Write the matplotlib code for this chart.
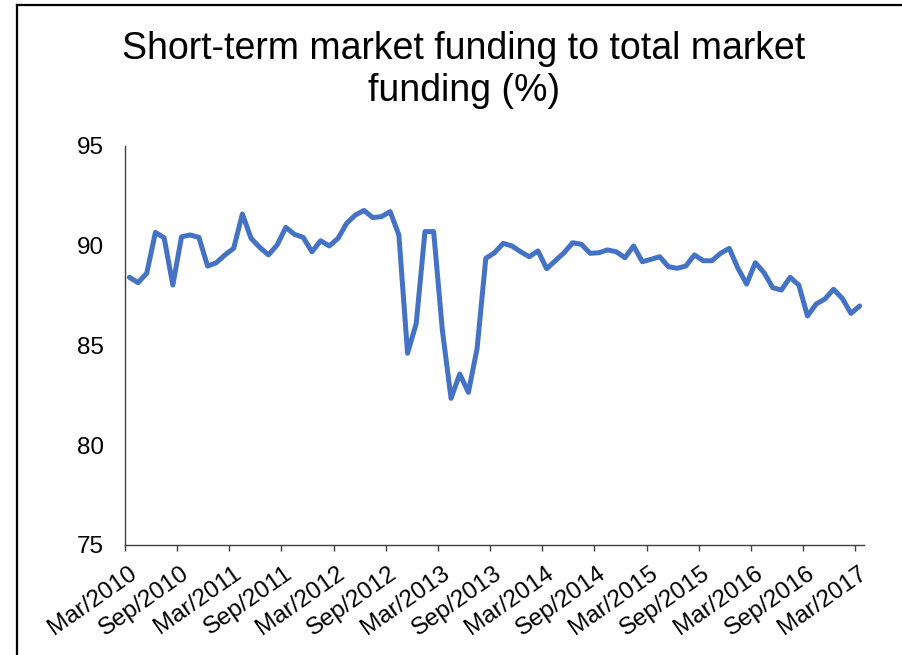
import matplotlib
matplotlib.use("Agg")
import matplotlib.pyplot as plt
import matplotlib.transforms as mtransforms
import numpy as np

# monthly share of short-term funding, Mar/2010 .. Mar/2017
values = [
    88.42, 88.15, 88.62, 90.67, 90.40, 88.03, 90.45, 90.54, 90.42, 88.98,
    89.15, 89.54, 89.87, 91.59, 90.37, 89.92, 89.54, 90.04, 90.92, 90.57,
    90.42, 89.70, 90.25, 89.99, 90.37, 91.13, 91.54, 91.77, 91.41, 91.46,
    91.71, 90.54, 84.61, 86.11, 90.71, 90.71, 85.78, 82.35, 83.57, 82.65,
    84.86, 89.37, 89.65, 90.12, 89.99, 89.70, 89.45, 89.74, 88.85, 89.25,
    89.65, 90.15, 90.07, 89.62, 89.65, 89.79, 89.70, 89.40, 89.99, 89.20,
    89.32, 89.45, 88.95, 88.87, 88.98, 89.54, 89.25, 89.25, 89.62, 89.87,
    88.87, 88.08, 89.15, 88.65, 87.90, 87.78, 88.42, 88.03, 86.48, 87.08,
    87.33, 87.82, 87.36, 86.61, 86.98,
]
tick_labels = ["Mar/2010", "Sep/2010", "Mar/2011", "Sep/2011", "Mar/2012",
               "Sep/2012", "Mar/2013", "Sep/2013", "Mar/2014", "Sep/2014",
               "Mar/2015", "Sep/2015", "Mar/2016", "Sep/2016", "Mar/2017"]
y_ticks = [75, 80, 85, 90, 95]

plt.rcParams['font.family'] = ['Liberation Sans', 'DejaVu Sans']

fig = plt.figure(figsize=(9.03, 6.55), dpi=100)

# outer chart border (only top and left edges are visible in the crop)
fig.add_artist(plt.Line2D([17/903, 1], [1 - 5/655, 1 - 5/655], color="black", lw=1.6))
fig.add_artist(plt.Line2D([17/903, 17/903], [0, 1 - 5/655], color="black", lw=1.6))

ax = fig.add_axes([125/903, 1 - 545/655, (864 - 125)/903, (545 - 146)/655])

# points sit in the middle of each month
x = np.arange(len(values)) + 0.5
ax.plot(x, values, color="#4472C4", lw=3.6, solid_joinstyle="round", solid_capstyle="round")

ax.set_xlim(0, len(values))
ax.set_ylim(75, 95)
ax.set_yticks(y_ticks)
ax.set_xticks(np.arange(0, len(values), 6))
ax.set_xticklabels(tick_labels, rotation=35, ha="right", va="top", rotation_mode="anchor")

for s in ["top", "right"]:
    ax.spines[s].set_visible(False)
for s in ["left", "bottom"]:
    ax.spines[s].set_color("#404040")
    ax.spines[s].set_linewidth(1.0)

ax.tick_params(axis="y", length=0, pad=15, labelsize=17.5)
ax.tick_params(axis="x", length=4.3, width=1.0, color="#404040", direction="out", pad=8, labelsize=17.5)

# nudge the rotated labels a little to the right, like the original
shift = mtransforms.ScaledTranslation(3/100, 0, fig.dpi_scale_trans)
for lbl in ax.get_xticklabels():
    lbl.set_transform(lbl.get_transform() + shift)

fig.text(464/903, 1 - 70/655, "Short-term market funding to total market\nfunding (%)",
         ha="center", va="center", fontsize=27, linespacing=1.2)

fig.savefig("out.png", dpi=100)
